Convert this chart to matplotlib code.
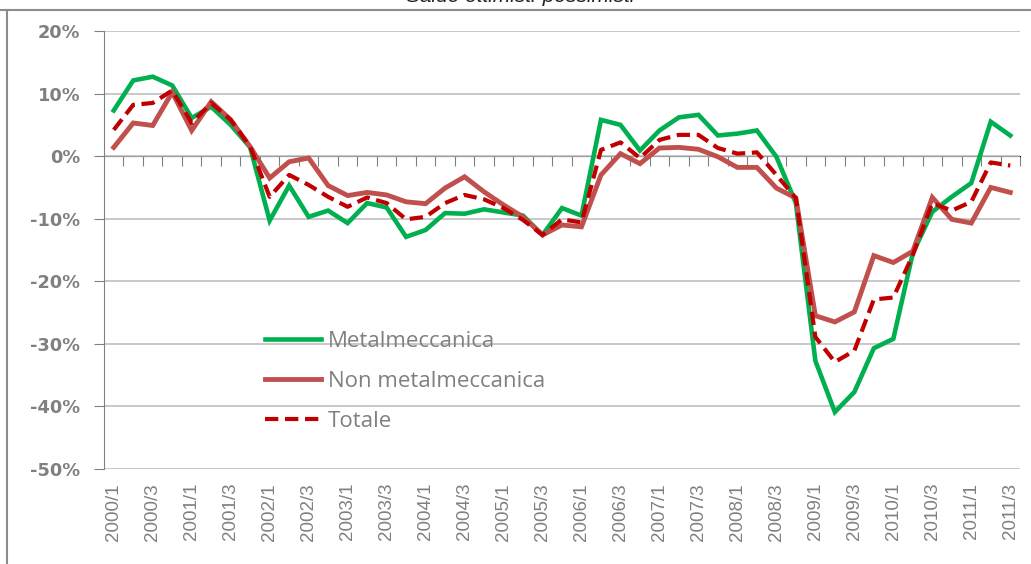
import numpy as np
import matplotlib
matplotlib.use("Agg")
import matplotlib.pyplot as plt
from matplotlib.lines import Line2D
from matplotlib.ticker import FuncFormatter, FixedLocator, NullFormatter

# quarters 2000/1 .. 2011/3
quarters = ["%d/%d" % (y, q) for y in range(2000, 2012) for q in range(1, 5)][:47]

metalmeccanica = [7.3, 12.1, 12.7, 11.3, 6.1, 7.9, 5.0, 1.4, -10.3, -4.7,
                  -9.7, -8.7, -10.7, -7.5, -8.2, -12.9, -11.8, -9.1, -9.2, -8.5,
                  -9.0, -9.5, -12.6, -8.3, -9.5, 5.8, 5.0, 0.9, 4.1, 6.2,
                  6.6, 3.3, 3.6, 4.1, -0.1, -7.5, -32.7, -40.9, -37.7, -30.7,
                  -29.2, -15.5, -8.9, -6.5, -4.3, 5.5, 3.3]
non_metalmeccanica = [1.4, 5.3, 4.9, 10.2, 4.1, 8.7, 5.8, 1.5, -3.5, -0.9,
                      -0.3, -4.7, -6.3, -5.8, -6.2, -7.3, -7.6, -5.1, -3.3, -5.7,
                      -7.8, -9.7, -12.6, -11.0, -11.3, -3.0, 0.4, -1.2, 1.3, 1.4,
                      1.1, -0.1, -1.8, -1.8, -5.1, -6.7, -25.5, -26.5, -24.9, -15.9,
                      -17.0, -15.2, -6.6, -10.1, -10.7, -5.0, -5.8]
totale = [4.2, 8.2, 8.5, 10.5, 5.3, 8.5, 5.8, 1.5, -6.5, -3.0,
          -4.6, -6.5, -8.1, -6.6, -7.5, -10.1, -9.7, -7.5, -6.2, -6.9,
          -8.3, -10.2, -12.6, -10.1, -10.6, 1.0, 2.2, -0.3, 2.6, 3.4,
          3.4, 1.3, 0.4, 0.6, -3.0, -6.7, -28.9, -32.9, -31.1, -22.9,
          -22.6, -15.8, -7.5, -8.7, -7.3, -1.0, -1.5]

grey = "#808080"

fig = plt.figure(figsize=(10.31, 5.64), dpi=100)
ax = fig.add_axes([104 / 1031, 95 / 564, 916 / 1031, 438 / 564])

x = np.arange(len(quarters))
ax.plot(x, metalmeccanica, color="#00B050", lw=3.3, label="Metalmeccanica",
        solid_joinstyle="miter")
ax.plot(x, non_metalmeccanica, color="#C0504D", lw=3.5, label="Non metalmeccanica",
        solid_joinstyle="miter")
ax.plot(x, totale, color="#C00000", lw=3.0, ls=(0, (3.2, 1.6)), label="Totale")

ax.set_xlim(-0.5, len(quarters) - 0.5)
ax.set_ylim(-50, 20)
ax.set_yticks(np.arange(-50, 21, 10))
ax.yaxis.set_major_formatter(FuncFormatter(lambda v, p: "%d%%" % v))
ax.yaxis.grid(True, color="#BFBFBF", lw=1.2)
ax.set_axisbelow(True)

ax.set_xticks(x[::2])
ax.set_xticklabels(quarters[::2], rotation=90, fontsize=13.5, color=grey,
                   family="Liberation Sans", va="top")
ax.tick_params(axis="x", length=0, pad=10)
ax.tick_params(axis="y", length=7, color=grey, direction="out", pad=10,
               labelsize=12.8, labelcolor=grey)
for lab in ax.get_yticklabels():
    lab.set_fontweight("bold")
for s in ["top", "right", "bottom"]:
    ax.spines[s].set_visible(False)
ax.spines["left"].set_color(grey)

# horizontal axis crossing at 0%, tick marks between categories
sec = ax.secondary_xaxis(50 / 70)
sec.xaxis.set_major_locator(FixedLocator(np.arange(0.5, len(quarters), 1.0)))
sec.xaxis.set_major_formatter(NullFormatter())
sec.xaxis.set_ticks_position("bottom")
sec.tick_params(axis="x", direction="out", length=7, color=grey)
sec.spines["bottom"].set_color(grey)
sec.spines["bottom"].set_linewidth(1.2)

leg = ax.legend(loc="upper left", bbox_to_anchor=(161 / 916, 1 - 300 / 438),
                frameon=False, handlelength=2.5, handletextpad=0.32,
                labelspacing=0.85, borderpad=0, borderaxespad=0,
                prop={"family": "Open Sans", "size": 16})
for t in leg.get_texts():
    t.set_color(grey)

fig.text(0.505, 1 - 2 / 564, "Saldo ottimisti-pessimisti", ha="center", va="baseline",
         fontsize=15, style="italic", family="Liberation Sans", color="#222222")

# chart frame
fig.add_artist(Line2D([0, 1], [1 - 10 / 564, 1 - 10 / 564], color="#8C8C8C", lw=1.5))
fig.add_artist(Line2D([7 / 1031, 7 / 1031], [0, 1 - 10 / 564], color="#8C8C8C", lw=1.5))

fig.savefig("out.png", dpi=100)
